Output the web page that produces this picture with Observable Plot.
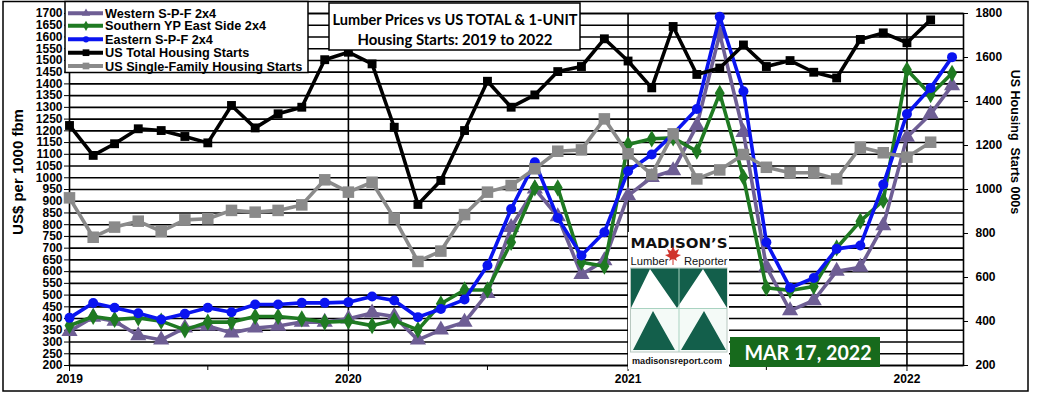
<!DOCTYPE html>
<html><head><meta charset="utf-8">
<script src="https://cdn.jsdelivr.net/npm/d3@7"></script>
<script src="https://cdn.jsdelivr.net/npm/@observablehq/plot@0.6"></script>
<style>
body{margin:0;background:#fff;}
#wrap{position:relative;width:1038px;height:399px;overflow:hidden;}
#wrap svg{position:absolute;left:0;top:0;}
</style></head><body><div id="wrap"></div>
<script>
// ---- data (monthly, starting Jan 2019) ----
const startYear = 2019;
// Lumber prices, US$ per 1000 fbm (Jan 2019 – Mar 2022)
const westernSPF = [346,406,389,328,309,360,368,339,360,368,385,385, 399,424,409,309,352,385,507,789,953,835,588,647, 924,1002,1031,1222,1613,1194,620,434,477,602,619,796, 1173,1272,1393];
const southernYP = [370,409,396,403,389,352,385,385,409,409,399,385, 389,370,392,352,463,522,522,725,957,957,640,623, 1142,1166,1170,1113,1360,1002,531,520,537,701,815,903, 1460,1354,1445];
const easternSPF = [403,466,446,423,396,420,446,427,460,460,467,467, 470,494,477,406,441,481,626,867,1066,829,669,768, 1028,1099,1187,1293,1686,1369,725,531,573,697,711,971, 1272,1383,1514];
// Housing starts, thousands (Jan 2019 – Feb 2022)
const totalStarts = [1291,1155,1208,1276,1268,1241,1212,1382,1280,1344,1374,1590, 1624,1571,1283,932,1041,1268,1492,1374,1430,1536,1559,1685, 1584,1462,1741,1523,1552,1657,1559,1586,1533,1507,1682,1712, 1667,1771];
const singleStarts = [962,783,829,856,810,862,867,905,897,905,930,1044, 988,1033,870,673,720,886,988,1018,1094,1174,1180,1321, 1162,1068,1253,1048,1089,1159,1101,1076,1076,1048,1192,1167, 1147,1215];

// ticks
const leftTicks = [200,250,300,350,400,450,500,550,600,650,700,750,800,850,900,950,1000,1050,1100,1150,1200,1250,1300,1350,1400,1450,1500,1550,1600,1650,1700];
const rightTicks = [200,400,600,800,1000,1200,1400,1600,1800];
const yearTicks = [2019,2020,2021,2022];

// series definitions
const seriesNames = ["Western S-P-F 2x4","Southern YP East Side 2x4","Eastern S-P-F 2x4","US Total Housing Starts","US Single-Family Housing Starts"];
const seriesColors = ["#6e5e94","#1f7a22","#0a14f0","#000000","#8a8a8a"];
const seriesSymbols = ["triangle","diamond","circle","square","square"];
const seriesR = [6,5.2,5,5,6.5];
const seriesValues = [westernSPF, southernYP, easternSPF, totalStarts, singleStarts];
const onRightAxis = [false,false,false,true,true];

// right axis (200..1800) mapped onto the left axis (200..1700)
const toLeft = r => 200 + (r - 200) * 1500 / 1600;
const fromLeft = l => 200 + (l - 200) * 1600 / 1500;
const monthDate = i => new Date(Date.UTC(startYear, i, 1));

const rows = seriesNames.map((name, s) => seriesValues[s].map((v, i) => ({
  series: name, date: monthDate(i), value: v, y: onRightAxis[s] ? toLeft(v) : v
})));

const yearDates = yearTicks.map(y => new Date(Date.UTC(y, 0, 1)));
const midDates = yearTicks.map(y => new Date(Date.UTC(y, 6, 1)));

const marks = [
  Plot.ruleY(leftTicks, {stroke: "black", strokeWidth: 1.6}),
  Plot.ruleX(yearDates.slice(1), {stroke: "black", strokeWidth: 1.6}),
  Plot.frame({stroke: "black", strokeWidth: 1.6}),
  Plot.axisY(leftTicks, {anchor: "left", tickSize: 5, tickPadding: 2, label: null, fontSize: 12, fontWeight: "bold",
    tickFormat: d => String(d)}),
  Plot.axisY(rightTicks.map(toLeft), {anchor: "right", tickSize: 4, tickPadding: 8, label: null, fontSize: 12, fontWeight: "bold",
    tickFormat: d => String(Math.round(fromLeft(d)))}),
  Plot.axisX(yearDates, {tickSize: 6, tickPadding: 3, tickFormat: d => String(d.getUTCFullYear()), label: null, fontSize: 12, fontWeight: "bold"}),
  Plot.axisX(midDates, {tickSize: 5, tickFormat: () => "", label: null})
];
seriesNames.forEach((name, s) => {
  marks.push(Plot.line(rows[s], {x: "date", y: "y", stroke: seriesColors[s], strokeWidth: 3.6, strokeLinejoin: "round"}));
  marks.push(Plot.dot(rows[s], {x: "date", y: "y", symbol: seriesSymbols[s], r: seriesR[s], fill: seriesColors[s], stroke: "none"}));
});

const chart = Plot.plot({
  width: 1038, height: 399,
  marginLeft: 69, marginRight: 75, marginTop: 13, marginBottom: 34,
  x: {type: "utc", domain: [monthDate(0), new Date(Date.UTC(2022, 2, 16))]},
  y: {domain: [200, 1700]},
  style: {fontFamily: "'Liberation Sans', Arial, sans-serif", color: "black", background: "white", overflow: "visible"},
  marks
});
document.getElementById("wrap").appendChild(chart);

// ---- overlay: border, axis titles, legend, title, logo, date ----
const ov = d3.select("#wrap").append("svg").attr("width", 1038).attr("height", 399).style("pointer-events", "none");
ov.append("rect").attr("x", 3).attr("y", 1.5).attr("width", 1025).attr("height", 389.5)
  .attr("fill", "none").attr("stroke", "black").attr("stroke-width", 1.5);

const sans = "'Liberation Sans', Arial, sans-serif";
ov.append("text").attr("transform", "translate(23,172) rotate(-90)").attr("text-anchor", "middle")
  .attr("font-family", sans).attr("font-weight", "bold").attr("font-size", 15).text("US$ per 1000 fbm");
ov.append("text").attr("transform", "translate(1011,142) rotate(90)").attr("text-anchor", "middle")
  .attr("font-family", sans).attr("font-weight", "bold").attr("font-size", 12.5).attr("xml:space", "preserve")
  .style("white-space", "pre").text("US Housing  Starts 000s");

// legend
const lg = ov.append("g");
lg.append("rect").attr("x", 65).attr("y", 1.5).attr("width", 243).attr("height", 71).attr("fill", "white").attr("stroke", "black").attr("stroke-width", 1.5);
const legendY = [13.3, 25.8, 39.3, 52.7, 66];
const d3sym = {triangle: d3.symbolTriangle, diamond: d3.symbolDiamond, circle: d3.symbolCircle, square: d3.symbolSquare};
seriesNames.forEach((name, s) => {
  const y = legendY[s];
  lg.append("line").attr("x1", 68).attr("x2", 103).attr("y1", y).attr("y2", y).attr("stroke", seriesColors[s]).attr("stroke-width", 4);
  lg.append("path").attr("d", d3.symbol(d3sym[seriesSymbols[s]], s >= 3 ? 45 : 30)()).attr("transform", `translate(86,${y})`).attr("fill", seriesColors[s]);
  lg.append("text").attr("x", 105).attr("y", y + 4.6).text(name)
    .attr("font-family", sans).attr("font-weight", "bold").attr("font-size", 12.7);
});

// title
const tg = ov.append("g");
tg.append("rect").attr("x", 329).attr("y", 3).attr("width", 251).attr("height", 47).attr("fill", "white").attr("stroke", "black").attr("stroke-width", 1.5);
const titleLines = ["Lumber Prices vs US TOTAL & 1-UNIT", "Housing Starts: 2019 to 2022"];
const titleLens = [245, 195];
titleLines.forEach((t, i) => {
  tg.append("text").attr("x", 455).attr("y", 25 + i * 20).attr("text-anchor", "middle").text(t)
    .attr("font-family", "Lato, 'Open Sans', sans-serif").attr("font-weight", "bold").attr("font-size", 16)
    .attr("textLength", titleLens[i]).attr("lengthAdjust", "spacingAndGlyphs");
});

// logo
const lo = ov.append("g");
const green = "#135f4b";
lo.append("rect").attr("x", 628).attr("y", 232).attr("width", 101).attr("height", 137).attr("fill", "white");
lo.append("text").attr("x", 679).attr("y", 248).attr("text-anchor", "middle").text("MADISON\u2019S")
  .attr("font-family", "'DejaVu Sans', sans-serif").attr("font-weight", "bold").attr("font-size", 13.5)
  .attr("textLength", 97).attr("lengthAdjust", "spacingAndGlyphs").attr("fill", "#111");
lo.append("text").attr("x", 679).attr("y", 265).attr("text-anchor", "middle").text("Lumber     Reporter")
  .attr("xml:space", "preserve").style("white-space", "pre")
  .attr("font-family", sans).attr("font-size", 11)
  .attr("textLength", 97).attr("lengthAdjust", "spacingAndGlyphs").attr("fill", "#111");
lo.append("path").attr("d", "M673,246 L675,251 L679,249 L677,254 L681,255 L676,258 L677,261 L673.5,259 L673.5,265 L672.5,265 L672.5,259 L669,261 L670,258 L665,255 L669,254 L667,249 L671,251 Z").attr("fill", "#d0342c");
lo.append("rect").attr("x", 630.5).attr("y", 268).attr("width", 96.5).attr("height", 84).attr("fill", "#f4faf7").attr("stroke", "#b8c8c0").attr("stroke-width", 1);
lo.append("rect").attr("x", 631).attr("y", 268.5).attr("width", 96).attr("height", 40).attr("fill", green);
lo.append("path").attr("d", "M650,269 L631,308 L677,308 Z M703,269 L677,308 L727,308 Z").attr("fill", "white");
lo.append("path").attr("d", "M653,311 L633,350 L675,350 Z M704,311 L681,350 L726,350 Z").attr("fill", green);
lo.append("line").attr("x1", 679).attr("x2", 679).attr("y1", 268).attr("y2", 352).attr("stroke", "#a9d3c1").attr("stroke-width", 1);
lo.append("line").attr("x1", 631).attr("x2", 727).attr("y1", 308.5).attr("y2", 308.5).attr("stroke", "#a9d3c1").attr("stroke-width", 1.2);
lo.append("text").attr("x", 677).attr("y", 364).attr("text-anchor", "middle").text("madisonsreport.com")
  .attr("font-family", sans).attr("font-weight", "bold").attr("font-size", 9)
  .attr("textLength", 90).attr("lengthAdjust", "spacingAndGlyphs").attr("fill", "#111");

// date box
ov.append("rect").attr("x", 730).attr("y", 337).attr("width", 150).attr("height", 30).attr("fill", "#176a1c");
ov.append("text").attr("x", 808).attr("y", 359.5).attr("text-anchor", "middle").text("MAR 17, 2022")
  .attr("font-family", "Lato, 'Open Sans', sans-serif").attr("font-weight", "bold").attr("font-size", 20)
  .attr("textLength", 127).attr("lengthAdjust", "spacingAndGlyphs").attr("fill", "white");
</script>
</body></html>
